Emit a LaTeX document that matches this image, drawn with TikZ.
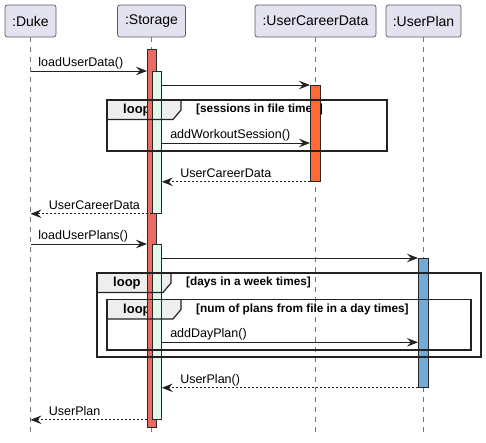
\documentclass[tikz,border=0pt]{standalone}
\usepackage{fontspec}
\setmainfont{Liberation Sans}
\usetikzlibrary{arrows.meta,calc}
\definecolor{partfill}{RGB}{226,226,240}
\definecolor{partline}{RGB}{90,90,90}
\definecolor{lifegrey}{RGB}{120,120,120}
\definecolor{actline}{RGB}{40,40,40}
\definecolor{actred}{RGB}{234,106,100}
\definecolor{actgreen}{RGB}{225,247,232}
\definecolor{actorange}{RGB}{255,106,51}
\definecolor{actblue}{RGB}{115,170,214}
\definecolor{tabgrey}{RGB}{238,238,238}
\definecolor{ink}{RGB}{34,34,34}
\tikzset{
  part/.style={draw=partline, fill=partfill, rounded corners=2.5pt, line width=0.7pt,
    inner sep=0pt, minimum height=32pt, font=\fontsize{14}{16}\selectfont},
  life/.style={draw=lifegrey, dash pattern=on 5pt off 5pt, line width=0.8pt},
  act/.style={draw=actline, line width=0.8pt, inner sep=0pt, anchor=north west},
  msg/.style={draw=ink, line width=0.9pt, -{Stealth[length=11pt,width=8.5pt,inset=4pt]}},
  ret/.style={msg, dash pattern=on 2pt off 2pt},
  lbl/.style={anchor=base west, inner sep=0pt, font=\fontsize{12.5}{14}\selectfont},
  framebox/.style={draw=ink, line width=1.6pt},
  tabline/.style={draw=ink, line width=1.2pt},
  looplbl/.style={anchor=base west, inner sep=0pt, font=\bfseries\fontsize{13}{15}\selectfont},
  condlbl/.style={anchor=base west, inner sep=0pt, font=\bfseries\fontsize{11.8}{13}\selectfont},
}
\begin{document}
\begin{tikzpicture}[x=1pt,y=-1pt]
\useasboundingbox (0,0) rectangle (486,442);
% participants
\node[part, minimum width=51pt] (duke) at (30.5,21) {:Duke};
\node[part, minimum width=68pt] (storage) at (151.5,21) {:Storage};
\node[part, minimum width=121pt] (ucd) at (315.5,21) {:UserCareerData};
\node[part, minimum width=75pt] (uplan) at (423.5,21) {:UserPlan};
% lifeline ends
\coordinate (dukeEnd) at (30.5,436);
\coordinate (storageEnd) at (151.5,436);
\coordinate (ucdEnd) at (315,436);
\coordinate (uplanEnd) at (423.5,436);
\draw[life] (duke.south) -- (dukeEnd);
\draw[life] (storage.south) -- (storageEnd);
\draw[life] (ucd.south -| ucdEnd) -- (ucdEnd);
\draw[life] (uplan.south) -- (uplanEnd);
% loop frames (corners)
\coordinate (L1a) at (107,100); \coordinate (L1b) at (387,151);
\coordinate (L2a) at (97,273);  \coordinate (L2b) at (481,357);
\coordinate (L3a) at (107,299.5); \coordinate (L3b) at (471,350);
% tab fills and labels
\foreach \c in {L1a,L2a,L3a}{
  \fill[tabgrey] (\c) -- ++(74,0) -- ++(0,10) -- ++(-8,9.5) -- ++(-66,0) -- cycle;
}
\node[looplbl] (lp1) at ($(L1a)+(16,13.5)$) {loop};
\node[condlbl] (cd1) at ($(L1a)+(89,12.5)$) {[sessions in file times]};
\node[looplbl] (lp2) at ($(L2a)+(16,13.5)$) {loop};
\node[condlbl] (cd2) at ($(L2a)+(89,12.5)$) {[days in a week times]};
\node[looplbl] (lp3) at ($(L3a)+(16,13.5)$) {loop};
\node[condlbl] (cd3) at ($(L3a)+(89,12.5)$) {[num of plans from file in a day times]};
% activations
\node[act, fill=actred, minimum width=9pt, minimum height=378pt] (s0) at (147,49) {};
\node[act, fill=actgreen, minimum width=9pt, minimum height=142pt] (g1) at (152,71) {};
\node[act, fill=actorange, minimum width=10pt, minimum height=96pt] (o1) at (310,85) {};
\node[act, fill=actgreen, minimum width=9pt, minimum height=175pt] (g2) at (152,244) {};
\node[act, fill=actblue, minimum width=10pt, minimum height=129pt] (b1) at (418,258) {};
% frame outlines
\foreach \a/\b in {L1a/L1b,L2a/L2b,L3a/L3b}{
  \draw[tabline] (\a) ++(74,0) -- ++(0,10) -- ++(-8,9.5) -- ++(-66,0);
  \draw[framebox] (\a) rectangle (\b);
}
% messages
\draw[msg] (duke |- g1.north) -- node[lbl, pos=0, xshift=7.5pt, yshift=4.5pt] {loadUserData()} (s0.west |- g1.north);
\draw[msg] (g1.east |- o1.north) -- (o1.north west);
\coordinate (m3) at (0,143);
\draw[msg] (g1.east |- m3) -- node[lbl, pos=0, xshift=8pt, yshift=4.5pt] {addWorkoutSession()} (o1.west |- m3);
\draw[ret] (o1.south west) -- node[lbl, pos=1, xshift=18pt, yshift=4.5pt] {UserCareerData} (g1.east |- o1.south);
\draw[ret] (g1.south west) -- node[lbl, pos=1, xshift=18pt, yshift=4.5pt] {UserCareerData} (duke |- g1.south);
\draw[msg] (duke |- g2.north) -- node[lbl, pos=0, xshift=7.5pt, yshift=4.5pt] {loadUserPlans()} (s0.west |- g2.north);
\draw[msg] (g2.east |- b1.north) -- (b1.north west);
\coordinate (m6) at (0,342.3);
\draw[msg] (g2.east |- m6) -- node[lbl, pos=0, xshift=8pt, yshift=4.5pt] {addDayPlan()} (b1.west |- m6);
\draw[ret] (b1.south west) -- node[lbl, pos=1, xshift=18pt, yshift=4.5pt] {UserPlan()} (g2.east |- b1.south);
\draw[ret] (s0.west |- g2.south) -- node[lbl, pos=1, xshift=18pt, yshift=4.5pt] {UserPlan} (duke |- g2.south);
\end{tikzpicture}
\end{document}
